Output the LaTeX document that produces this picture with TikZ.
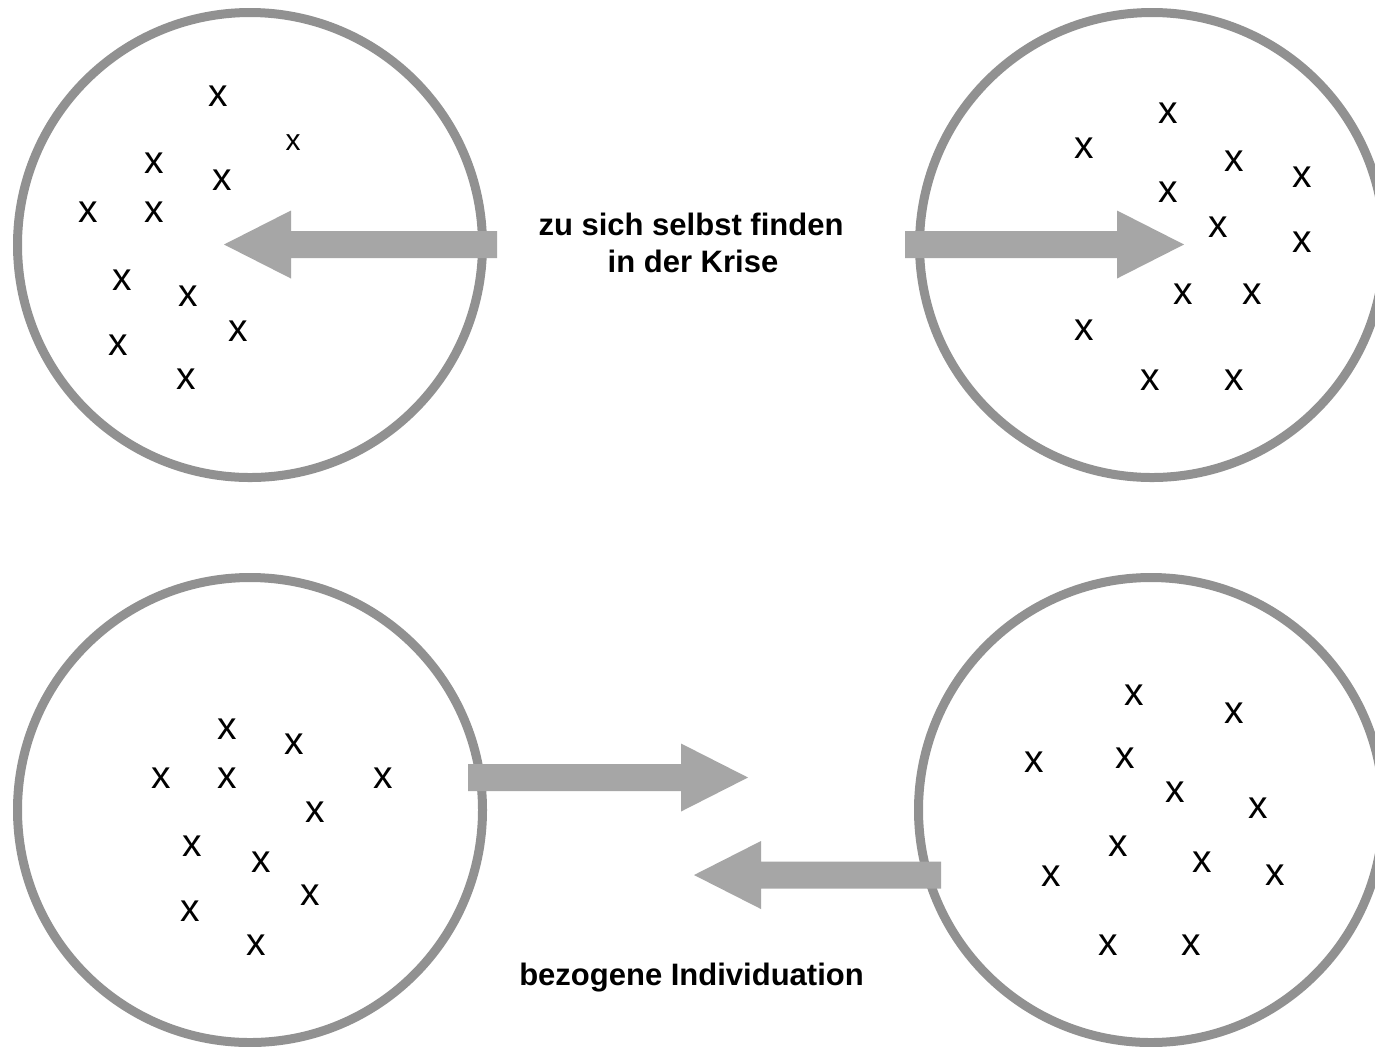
\documentclass[tikz,border=0pt]{standalone}
\usepackage{fontspec}
\setmainfont{Liberation Sans}
\usetikzlibrary{calc}
\definecolor{ringgray}{HTML}{919191}
\definecolor{arrowgray}{HTML}{A6A6A6}
\newcommand{\blockarrowR}[2]{%
  \fill[arrowgray] ($(#1)+(0,-13.5)$) -- ($(#2)+(-67,-13.5)$) -- ($(#2)+(-67,-34)$) -- (#2)
    -- ($(#2)+(-67,34)$) -- ($(#2)+(-67,13.5)$) -- ($(#1)+(0,13.5)$) -- cycle;}
\newcommand{\blockarrowL}[2]{%
  \fill[arrowgray] ($(#1)+(0,-13.5)$) -- ($(#2)+(67,-13.5)$) -- ($(#2)+(67,-34)$) -- (#2)
    -- ($(#2)+(67,34)$) -- ($(#2)+(67,13.5)$) -- ($(#1)+(0,13.5)$) -- cycle;}
\begin{document}
\begin{tikzpicture}[x=0.5pt,y=-0.5pt,
  ring/.style={circle, draw=ringgray, line width=4.5pt, minimum size=232.5pt, inner sep=0pt},
  xsign/.style={font=\fontsize{19.5pt}{20pt}\selectfont, inner sep=0pt},
  xsmall/.style={font=\fontsize{15pt}{16pt}\selectfont, inner sep=0pt},
  label/.style={font=\fontsize{15.5pt}{18pt}\selectfont\bfseries, inner sep=0pt, anchor=base}]
\useasboundingbox (0,0) rectangle (1375,1046);
\fill[white] (0,0) rectangle (1375,1046);
% rings
\node[ring] (c1) at (250,245) {};
\node[ring] (c2) at (1152,245) {};
\node[ring] (c3) at (250,810) {};
\node[ring] (c4) at (1151,810) {};
% x marks top-left
\foreach \p [count=\i] in {(218,96),(154,163),(222,180),(88,212),(154,212),(122,280),(188,296),(238,331),(118,345),(186,379)}
  \node[xsign] (a\i) at \p {x};
\node[xsmall] (a0) at (293,143) {x};
% top-right
\foreach \p [count=\i] in {(1168,113),(1084,148),(1234,161),(1302,177),(1168,192),(1218,227),(1302,242),(1183,294),(1252,294),(1084,330),(1150,380),(1234,380)}
  \node[xsign] (b\i) at \p {x};
% bottom-left
\foreach \p [count=\i] in {(227,729),(294,744),(161,778),(227,778),(383,778),(315,812),(192,846),(261,862),(310,895),(190,911),(256,945)}
  \node[xsign] (d\i) at \p {x};
% bottom-right
\foreach \p [count=\i] in {(1134,695),(1234,713),(1034,762),(1125,758),(1175,792),(1258,808),(1118,846),(1202,862),(1051,876),(1275,875),(1108,945),(1191,945)}
  \node[xsign] (e\i) at \p {x};
% arrow endpoints
\coordinate (t1) at (497,244.5);
\coordinate (h1) at (224,244.5);
\coordinate (t2) at (905,244.5);
\coordinate (h2) at (1184,244.5);
\coordinate (t3) at (468,777.5);
\coordinate (h3) at (748,777.5);
\coordinate (t4) at (941,875);
\coordinate (h4) at (694,875);
\blockarrowL{t1}{h1}
\blockarrowR{t2}{h2}
\blockarrowR{t3}{h3}
\blockarrowL{t4}{h4}
% labels
\node[label] (l1) at (691,235) {zu sich selbst finden};
\node[label] (l2) at (693,272) {in der Krise};
\node[label] (l3) at (691.5,985) {bezogene Individuation};
\end{tikzpicture}
\end{document}
